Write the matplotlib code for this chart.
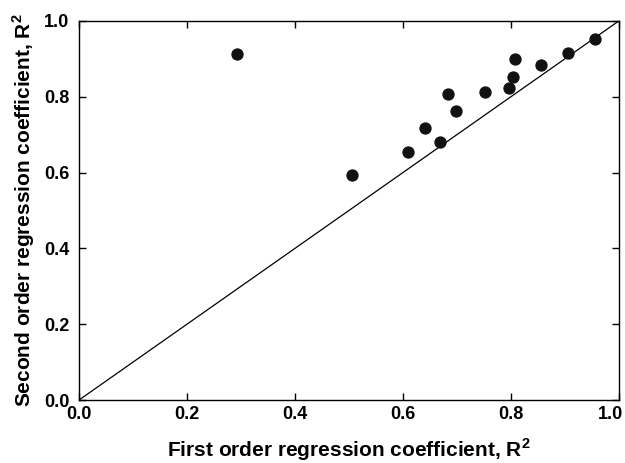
import matplotlib
matplotlib.use("Agg")
import matplotlib.pyplot as plt
from matplotlib.transforms import ScaledTranslation

# first vs second order regression coefficients
first_order = [0.293, 0.505, 0.609, 0.641, 0.669, 0.684, 0.699, 0.751,
               0.796, 0.803, 0.807, 0.856, 0.906, 0.956]
second_order = [0.913, 0.594, 0.654, 0.718, 0.681, 0.807, 0.763, 0.812,
                0.824, 0.851, 0.899, 0.884, 0.916, 0.952]
ticks = [0.0, 0.2, 0.4, 0.6, 0.8, 1.0]

plt.rcParams['font.family'] = ['Liberation Sans', 'DejaVu Sans']
plt.rcParams['mathtext.fontset'] = 'custom'
plt.rcParams['mathtext.bf'] = 'Liberation Sans:bold'
plt.rcParams['mathtext.rm'] = 'Liberation Sans:bold'

fig = plt.figure(figsize=(6.25, 4.63), dpi=100)
ax = fig.add_axes([0.1264, 0.136, 0.864, 0.819])

# 1:1 line
ax.plot([0, 1], [0, 1], color='black', linewidth=0.9)
ax.scatter(first_order, second_order, s=62, color='#111111', zorder=3)

ax.set_xlim(0, 1)
ax.set_ylim(0, 1)
ax.set_xticks(ticks)
ax.set_yticks(ticks)
ax.set_xticklabels([f"{t:.1f}" for t in ticks], fontsize=13, fontweight='bold')
ax.set_yticklabels([f"{t:.1f}" for t in ticks], fontsize=13, fontweight='bold')
ax.tick_params(direction='in', length=5, width=1, top=True, right=True)
ax.tick_params(axis='x', pad=4)
ax.tick_params(axis='y', pad=7)
for sp in ax.spines.values():
    sp.set_linewidth(1)

# last x label sits left of its tick so it stays inside the figure
last = ax.get_xticklabels()[-1]
last.set_horizontalalignment('right')
last.set_transform(last.get_transform() + ScaledTranslation(4 / 100, 0, fig.dpi_scale_trans))

ax.set_xlabel(r"First order regression coefficient, R$^{\mathbf{2}}$", fontsize=15,
              fontweight='bold', labelpad=10)
ax.set_ylabel(r"Second order regression coefficient, R$^{\mathbf{2}}$", fontsize=15,
              fontweight='bold', labelpad=5)

fig.savefig("out.png", dpi=100)
